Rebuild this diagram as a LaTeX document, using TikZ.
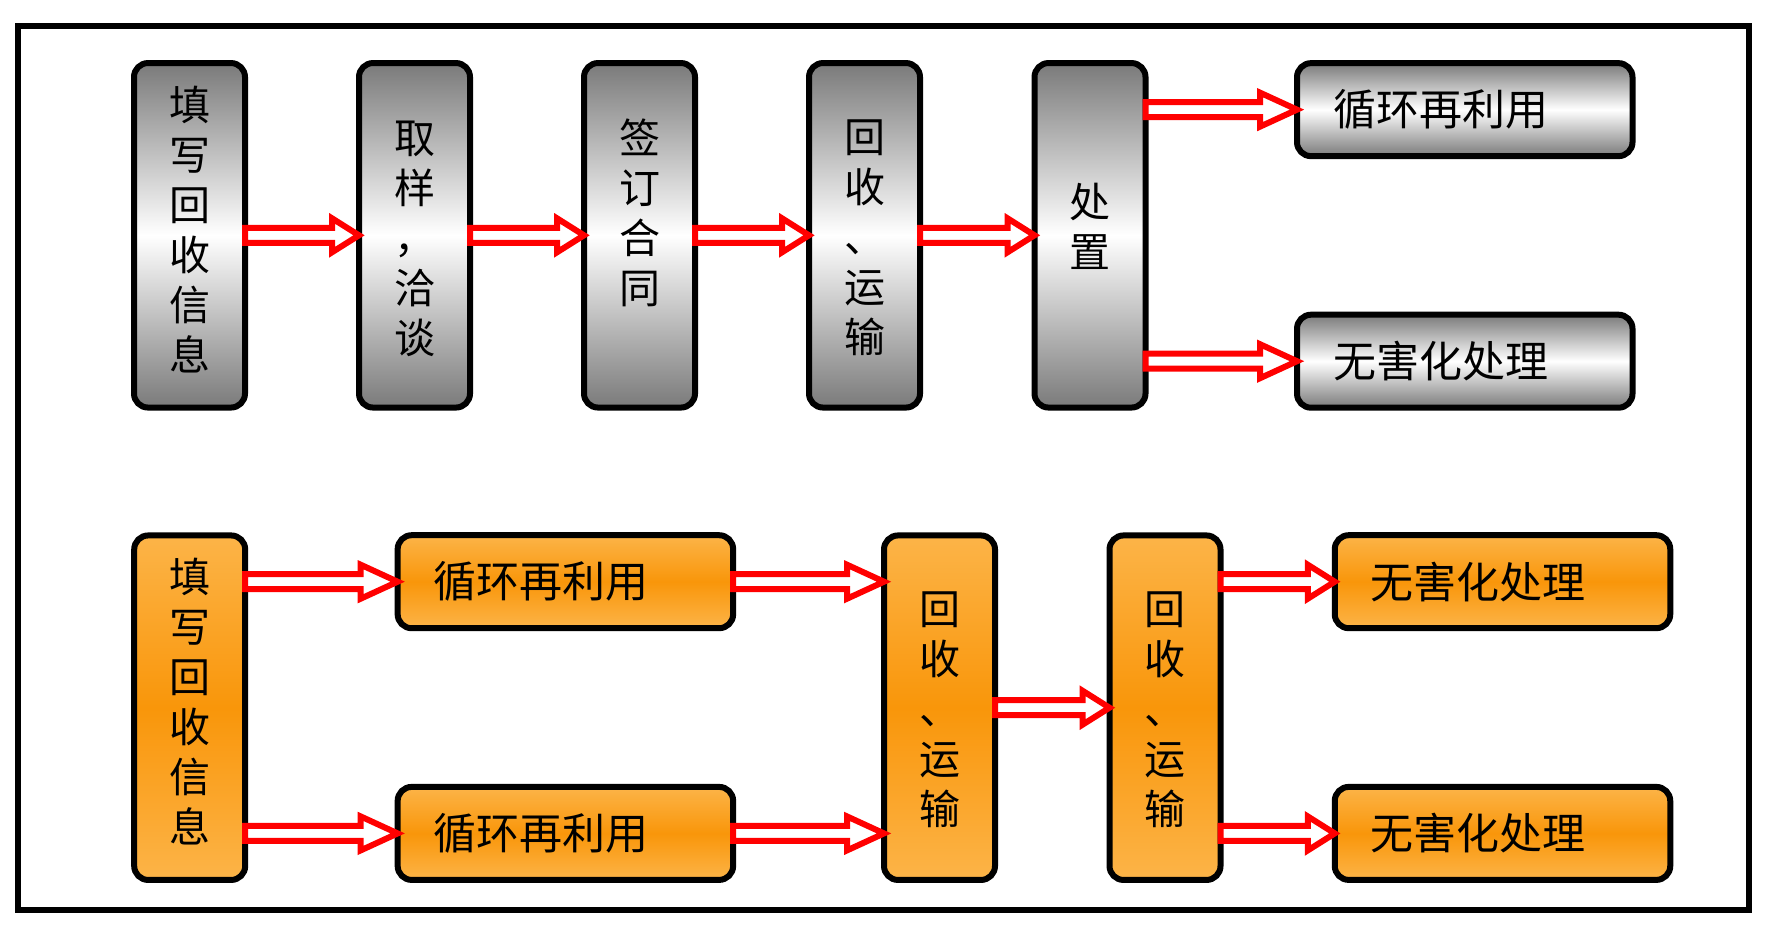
\documentclass[tikz,border=0pt]{standalone}
\usepackage{fontspec}
\newfontfamily\cjk{Noto Sans CJK SC}
\usetikzlibrary{calc}
\definecolor{grayend}{RGB}{122,122,122}
\definecolor{orangeend}{RGB}{252,180,72}
\definecolor{orangemid}{RGB}{249,150,10}
\definecolor{arrowred}{RGB}{255,0,0}
\tikzset{
  boxbase/.style={draw=black, line width=6pt, rounded corners=14pt, outer sep=0pt, inner sep=0pt},
  graybox/.style={boxbase, top color=grayend, bottom color=grayend, middle color=white},
  orangebox/.style={boxbase, top color=orangeend, bottom color=orangeend, middle color=orangemid},
  vbox/.style={minimum width=111pt, minimum height=344.5pt},
  hbox/.style={minimum width=335.5pt, minimum height=93pt},
  vtext/.style={font=\cjk\fontsize{41pt}{50pt}\selectfont, align=center, inner sep=0pt},
  htext/.style={font=\cjk\fontsize{43pt}{50pt}\selectfont, inner sep=0pt, anchor=west},
  hollow/.style={draw=arrowred, fill=white, line width=6pt, line join=miter, miter limit=10},
}
\newcommand{\hollowarrow}[3]{%
  \draw[hollow] let \p1=(#1), \p2=(#2) in
    (\x1,\y1+7.5pt) -- (\x2-#3,\y1+7.5pt) -- (\x2-#3,\y1+17pt) -- (\x2,\y1)
    -- (\x2-#3,\y1-17pt) -- (\x2-#3,\y1-7.5pt) -- (\x1,\y1-7.5pt) -- cycle;}
\begin{document}
\begin{tikzpicture}[x=1pt,y=-1pt]
\useasboundingbox (0,0) rectangle (1774,942);
\fill[white] (0,0) rectangle (1774,942);
\node[draw=black, line width=6pt, inner sep=0pt, outer sep=0pt,
      minimum width=1731.5pt, minimum height=883.7pt] (frame) at (883.25,468.15) {};

% top row
\node[graybox, vbox] (b1) at (189.5,235.3) {};
\node[graybox, vbox] (b2) at (414.5,235.3) {};
\node[graybox, vbox] (b3) at (639.5,235.3) {};
\node[graybox, vbox] (b4) at (864.5,235.3) {};
\node[graybox, vbox] (b5) at (1090,235.3) {};
\node[graybox, hbox] (r1) at (1464.75,109.65) {};
\node[graybox, hbox] (r2) at (1464.75,361.2) {};

\node[vtext] (t1) at (189.5,230) {填\\写\\回\\收\\信\\息};
\node[vtext] (t2) at (414.5,239) {取\\样\\，\\洽\\谈};
\node[vtext] (t3) at (639.5,213) {签\\订\\合\\同};
\node[vtext] (t4) at (864.5,238) {回\\收\\、\\运\\输};
\node[vtext] (t5) at (1090,226.5) {处\\置};
\node[htext] (tr1) at ([xshift=36pt]r1.west) {循环再利用};
\node[htext] (tr2) at ([xshift=36pt]r2.west) {无害化处理};

% bottom row
\node[orangebox, vbox] (L) at (189.7,707.7) {};
\node[orangebox, hbox] (c1) at (565.4,581.7) {};
\node[orangebox, hbox] (c2) at (565.4,833.4) {};
\node[orangebox, vbox] (A) at (939.5,707.7) {};
\node[orangebox, vbox] (B) at (1165,707.7) {};
\node[orangebox, hbox] (h1) at (1502.5,581.7) {};
\node[orangebox, hbox] (h2) at (1502.5,833.4) {};

\node[vtext] (tL) at (189.7,702) {填\\写\\回\\收\\信\\息};
\node[vtext] (tA) at (939.5,710) {回\\收\\、\\运\\输};
\node[vtext] (tB) at (1165,710) {回\\收\\、\\运\\输};
\node[htext] (tc1) at ([xshift=36pt]c1.west) {循环再利用};
\node[htext] (tc2) at ([xshift=36pt]c2.west) {循环再利用};
\node[htext] (th1) at ([xshift=36pt]h1.west) {无害化处理};
\node[htext] (th2) at ([xshift=36pt]h2.west) {无害化处理};

% arrows top
\hollowarrow{b1.east}{b2.west}{27pt}
\hollowarrow{b2.east}{b3.west}{27pt}
\hollowarrow{b3.east}{b4.west}{27pt}
\hollowarrow{b4.east}{b5.west}{27pt}
\hollowarrow{b5.east |- r1.west}{r1.west}{37pt}
\hollowarrow{b5.east |- r2.west}{r2.west}{37pt}

% arrows bottom
\hollowarrow{L.east |- c1.west}{c1.west}{37pt}
\hollowarrow{L.east |- c2.west}{c2.west}{37pt}
\hollowarrow{c1.east}{A.west |- c1.east}{37pt}
\hollowarrow{c2.east}{A.west |- c2.east}{37pt}
\hollowarrow{A.east}{B.west}{27pt}
\hollowarrow{B.east |- h1.west}{h1.west}{27pt}
\hollowarrow{B.east |- h2.west}{h2.west}{27pt}
\end{tikzpicture}
\end{document}
